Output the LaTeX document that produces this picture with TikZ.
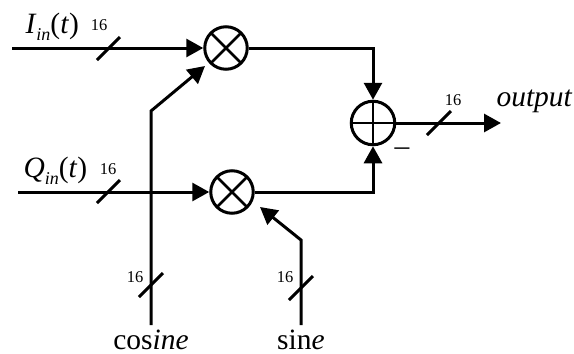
\documentclass[tikz,border=0pt]{standalone}
\usepackage{fontspec}
\setmainfont{Liberation Serif}
\usepackage{tikz}
\usetikzlibrary{arrows.meta}
\newcommand{\siglabel}[1]{\textit{#1}\raisebox{-7pt}{\fontsize{18}{18}\selectfont\textit{in}}(\textit{t})}
\begin{document}
\begin{tikzpicture}[x=1pt,y=-1pt,line width=3pt]
\tikzstyle{mixer}=[circle,draw,minimum size=42.5pt,inner sep=0pt,path picture={
\draw[line width=2.6pt] (path picture bounding box.north west) -- (path picture bounding box.south east);
\draw[line width=2.6pt] (path picture bounding box.north east) -- (path picture bounding box.south west);}]
\tikzstyle{adder}=[circle,draw,minimum size=43.5pt,inner sep=0pt,path picture={
\draw[line width=2.6pt] (path picture bounding box.north) -- (path picture bounding box.south);
\draw[line width=2.6pt] (path picture bounding box.east) -- (path picture bounding box.west);}]
\tikzstyle{wire}=[-{Triangle[length=17pt,width=18pt]}]
\tikzstyle{bigtext}=[font=\fontsize{29.5}{30}\selectfont,inner sep=0pt]
\tikzstyle{width}=[font=\fontsize{16.5}{17}\selectfont,inner sep=0pt]
\useasboundingbox (0,0) rectangle (574,354);
\node[mixer] (mulI) at (226,48) {};
\node[mixer] (mulQ) at (232,192) {};
\node[adder] (add) at (373,123) {};
\coordinate (inI) at (12,48);
\coordinate (inQ) at (18,192);
\coordinate (cosend) at (151,325);
\coordinate (cosbend) at (151,111);
\coordinate (cosTip) at (205,66);
\coordinate (sinend) at (301,325);
\coordinate (sinbend) at (301,240);
\coordinate (sinTip) at (260,207);
\coordinate (outTip) at (501,123);
\draw[wire] (inI) -- (mulI);
\draw[wire] (inQ) -- (mulQ);
\draw[wire] (cosend) -- (cosbend) -- (cosTip);
\draw[wire] (sinend) -- (sinbend) -- (sinTip);
\draw[wire] (mulI) -| (add);
\draw[wire] (mulQ) -| (add);
\draw[wire] (add) -- (outTip);
% width marks
\coordinate (s1a) at (97,60); \coordinate (s1b) at (120,37);
\coordinate (s2a) at (97,203); \coordinate (s2b) at (120,180);
\coordinate (s3a) at (139,297); \coordinate (s3b) at (163,273);
\coordinate (s4a) at (289,300); \coordinate (s4b) at (313,276);
\coordinate (s5a) at (427,135); \coordinate (s5b) at (451,111);
\draw (s1a) -- (s1b);
\draw (s2a) -- (s2b);
\draw (s3a) -- (s3b);
\draw (s4a) -- (s4b);
\draw (s5a) -- (s5b);
\node[width] (w1) at (99,25) {16};
\node[width] (w2) at (108,169) {16};
\node[width] (w3) at (135,277) {16};
\node[width] (w4) at (285,277) {16};
\node[width] (w5) at (453,100) {16};
\node[bigtext,anchor=base west] (lblI) at (24,33) {\siglabel{I}};
\node[bigtext,anchor=base west] (lblQ) at (22,177) {\siglabel{Q}};
\node[bigtext,anchor=base west] (lblout) at (495,106) {\textit{output}};
\node[bigtext,anchor=base] (lblcos) at (151,349) {cos\textit{ine}};
\node[bigtext,anchor=base] (lblsin) at (301,349) {sin\textit{e}};
\node[bigtext] (minus) at (402,152) {--};
\end{tikzpicture}
\end{document}
